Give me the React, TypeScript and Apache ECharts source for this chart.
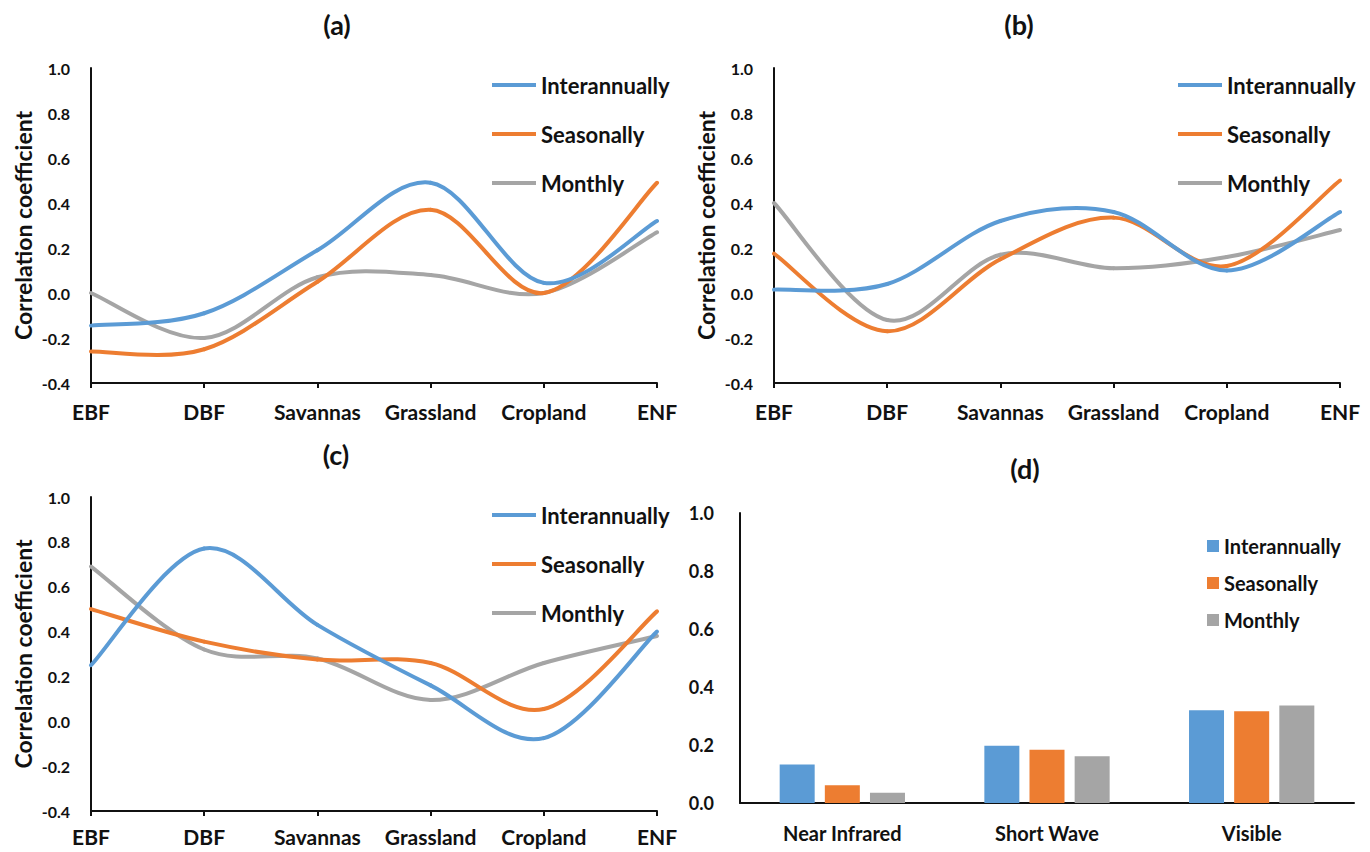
import React, { useEffect, useRef } from "react";
import * as echarts from "echarts";

// Land-cover types on the x axis of panels (a)-(c)
const landCovers = ["EBF", "DBF", "Savannas", "Grassland", "Cropland", "ENF"];
// Spectral bands of panel (d)
const bands = ["Near Infrared", "Short Wave", "Visible"];
const seriesNames = ["Interannually", "Seasonally", "Monthly"];
const seriesColors = ["#5B9BD5", "#ED7D31", "#A5A5A5"];
const panelTitles = ["(a)", "(b)", "(c)", "(d)"];

// Panel (a)
const aInterannually = [-0.145, -0.09, 0.19, 0.49, 0.045, 0.32];
const aSeasonally = [-0.26, -0.25, 0.05, 0.37, 0.0, 0.49];
const aMonthly = [0.0, -0.2, 0.07, 0.08, 0.0, 0.27];

// Panel (b)
const bInterannually = [0.015, 0.04, 0.32, 0.36, 0.1, 0.36];
const bSeasonally = [0.175, -0.17, 0.15, 0.335, 0.12, 0.5];
const bMonthly = [0.4, -0.12, 0.17, 0.11, 0.16, 0.28];

// Panel (c)
const cInterannually = [0.25, 0.77, 0.43, 0.16, -0.075, 0.4];
const cSeasonally = [0.5, 0.355, 0.275, 0.26, 0.055, 0.49];
const cMonthly = [0.69, 0.32, 0.28, 0.095, 0.26, 0.38];

// Panel (d)
const dInterannually = [0.133, 0.197, 0.32];
const dSeasonally = [0.061, 0.184, 0.316];
const dMonthly = [0.035, 0.161, 0.336];

const FONT = "Lato";
const INK = "#111111";

const linePanels = [
  [aInterannually, aSeasonally, aMonthly],
  [bInterannually, bSeasonally, bMonthly],
  [cInterannually, cSeasonally, cMonthly],
];

// Smooth curve series: each data item draws the cubic segment to the next
// point, with Catmull-Rom tangents so the curve may swing past the points.
function smoothCurveSeries(values: number[], gridIndex: number, si: number) {
  const n = values.length;
  return {
    type: "custom",
    name: seriesNames[si],
    xAxisIndex: gridIndex,
    yAxisIndex: gridIndex,
    data: values.map((v, i) => [i, v]),
    encode: { x: 0, y: 1 },
    z: 3 - si,
    clip: false,
    renderItem: (params: any, api: any) => {
      const i = params.dataIndex;
      if (i >= n - 1) return null;
      const pt = (j: number) => {
        const k = Math.max(0, Math.min(n - 1, j));
        return api.coord([k, values[k]]);
      };
      const p0 = pt(i - 1);
      const p1 = pt(i);
      const p2 = pt(i + 1);
      const p3 = pt(i + 2);
      return {
        type: "bezierCurve",
        shape: {
          x1: p1[0],
          y1: p1[1],
          x2: p2[0],
          y2: p2[1],
          cpx1: p1[0] + (p2[0] - p0[0]) / 6,
          cpy1: p1[1] + (p2[1] - p0[1]) / 6,
          cpx2: p2[0] - (p3[0] - p1[0]) / 6,
          cpy2: p2[1] - (p3[1] - p1[1]) / 6,
        },
        style: {
          stroke: seriesColors[si],
          fill: "none",
          lineWidth: 4,
          lineCap: "round",
        },
      };
    },
  };
}

export default function App() {
  const ref = useRef<HTMLDivElement>(null);

  useEffect(() => {
    if (!ref.current) return;
    const chart = echarts.init(ref.current, undefined, { renderer: "svg" });

    const grids = [
      { left: 91, top: 68, width: 566, height: 315 },
      { left: 774, top: 68, width: 566, height: 315 },
      { left: 91, top: 497, width: 566, height: 314 },
      { left: 740, top: 513, width: 614, height: 290 },
    ];

    const lineXAxis = (gridIndex: number, margin: number) => ({
      type: "category",
      gridIndex,
      data: landCovers,
      boundaryGap: false,
      axisLine: { onZero: false, lineStyle: { color: INK, width: 2 } },
      axisTick: { show: true, length: 5, lineStyle: { color: INK, width: 2 } },
      axisLabel: {
        margin,
        fontFamily: FONT,
        fontWeight: "bold",
        fontSize: 21,
        color: INK,
        interval: 0,
      },
      splitLine: { show: false },
    });

    const lineYAxis = (gridIndex: number) => ({
      type: "value",
      gridIndex,
      min: -0.4,
      max: 1.0,
      interval: 0.2,
      name: "Correlation coefficient",
      nameLocation: "middle",
      nameGap: 57,
      nameTextStyle: {
        fontFamily: FONT,
        fontWeight: "bold",
        fontSize: 23,
        color: INK,
      },
      axisLine: { show: true, lineStyle: { color: INK, width: 2 } },
      axisTick: { show: false },
      splitLine: { show: false },
      axisLabel: {
        margin: 21,
        fontFamily: FONT,
        fontWeight: "bold",
        fontSize: 16,
        color: INK,
        formatter: (v: number) => v.toFixed(1),
      },
    });

    const curveSeries = linePanels.flatMap((panel, gi) =>
      panel.map((values, si) => smoothCurveSeries(values, gi, si))
    );

    const barSeries = [dInterannually, dSeasonally, dMonthly].map((values, si) => ({
      type: "bar",
      name: seriesNames[si],
      xAxisIndex: 3,
      yAxisIndex: 3,
      data: values,
      barWidth: 35,
      barGap: "29%",
      itemStyle: { color: seriesColors[si] },
    }));

    const legendText = (size: number, lh: number) => ({
      fontFamily: FONT,
      fontWeight: "bold",
      fontSize: size,
      color: INK,
      lineHeight: lh,
    });

    // Line-style legend: a flat bar in each series colour, no marker
    const lineLegend = (left: number, top: number) => ({
      orient: "vertical",
      left,
      top,
      padding: 0,
      itemWidth: 44,
      itemHeight: 4,
      itemGap: 25,
      selectedMode: false,
      data: seriesNames.map((n, i) => ({
        name: n,
        icon: "rect",
        itemStyle: { color: seriesColors[i] },
      })),
      textStyle: legendText(22, 24),
    });

    const titleCenters = [
      [337, 11],
      [1019, 11],
      [336, 441],
      [1025, 455],
    ];

    chart.setOption({
      animation: false,
      backgroundColor: "#ffffff",
      title: panelTitles.map((t, i) => ({
        text: t,
        left: titleCenters[i][0],
        top: titleCenters[i][1],
        textAlign: "center",
        padding: 0,
        textStyle: { fontFamily: FONT, fontWeight: "bold", fontSize: 27, color: INK },
      })),
      legend: [
        lineLegend(492, 73),
        lineLegend(1178, 73),
        lineLegend(492, 503),
        {
          orient: "vertical",
          left: 1207,
          top: 535,
          padding: 0,
          itemWidth: 12,
          itemHeight: 12,
          itemGap: 15,
          selectedMode: false,
          data: seriesNames.map((n, i) => ({
            name: n,
            icon: "rect",
            itemStyle: { color: seriesColors[i] },
          })),
          textStyle: legendText(20, 22),
        },
      ],
      grid: grids,
      xAxis: [
        lineXAxis(0, 18),
        lineXAxis(1, 18),
        lineXAxis(2, 15),
        {
          type: "category",
          gridIndex: 3,
          data: bands,
          axisLine: { onZero: false, lineStyle: { color: INK, width: 2 } },
          axisTick: { show: false },
          axisLabel: {
            margin: 20,
            fontFamily: FONT,
            fontWeight: "bold",
            fontSize: 20,
            color: INK,
            interval: 0,
          },
        },
      ],
      yAxis: [
        lineYAxis(0),
        lineYAxis(1),
        lineYAxis(2),
        {
          type: "value",
          gridIndex: 3,
          min: 0,
          max: 1.0,
          interval: 0.2,
          axisLine: { show: true, lineStyle: { color: INK, width: 2 } },
          axisTick: { show: false },
          splitLine: { show: false },
          axisLabel: {
            margin: 26,
            fontFamily: FONT,
            fontWeight: "bold",
            fontSize: 18,
            color: INK,
            formatter: (v: number) => v.toFixed(1),
          },
        },
      ],
      series: [...curveSeries, ...barSeries],
    });

    return () => chart.dispose();
  }, []);

  return (
    <div
      ref={ref}
      style={{ position: "absolute", left: 0, top: 0, width: 1370, height: 852 }}
    />
  );
}
